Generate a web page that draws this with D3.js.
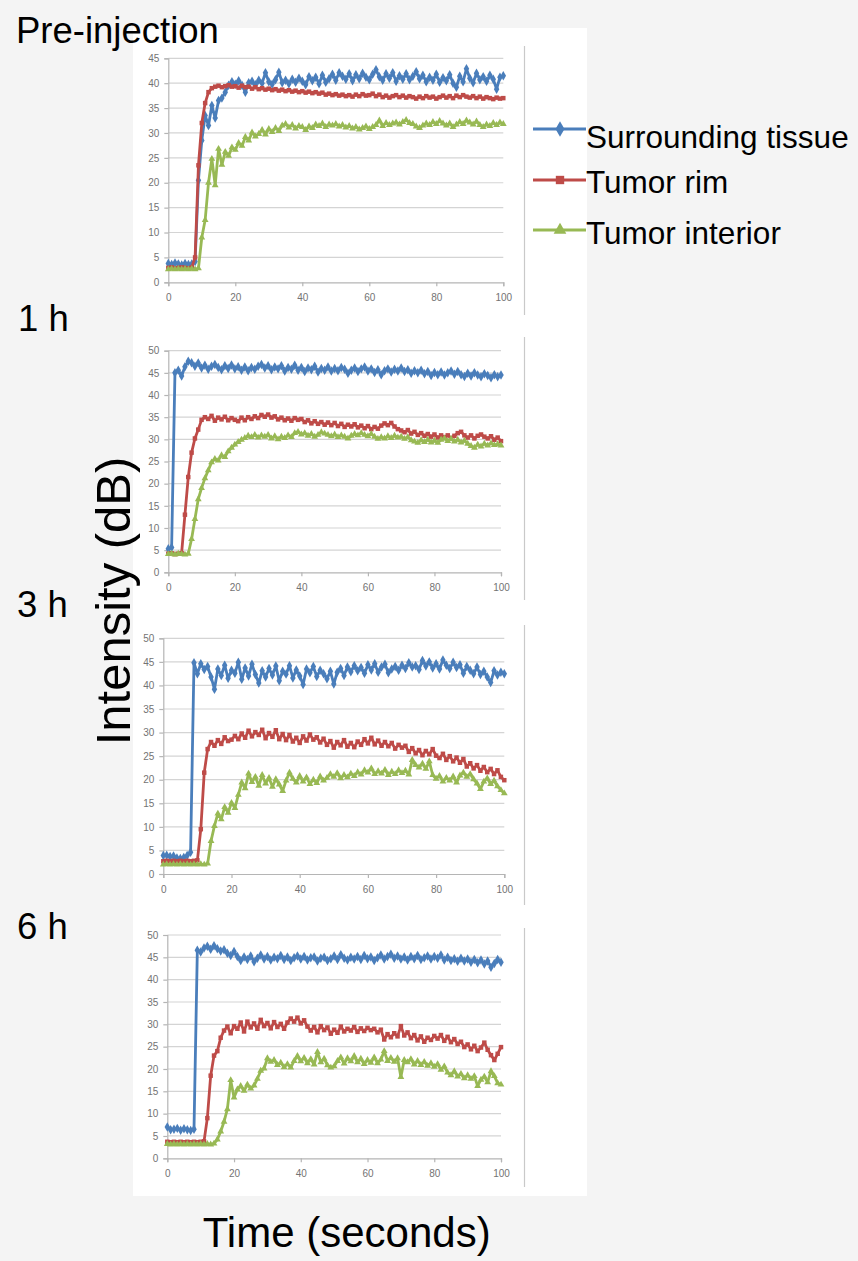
<!DOCTYPE html>
<html><head><meta charset="utf-8">
<script src="https://cdn.jsdelivr.net/npm/d3@7"></script>
<style>html,body{margin:0;padding:0;background:#f4f4f4;} svg{display:block;}</style>
</head><body>
<svg id="chart" width="858" height="1261"></svg>
<script>
// ---------- DATA ----------
const times = d3.range(0, 101, 1); // sample times in seconds
const panelTitles = ["Pre-injection", "1 h", "3 h", "6 h"];
const seriesNames = ["Surrounding tissue", "Tumor rim", "Tumor interior"];
const yMaxes = [45, 50, 50, 50];
const xTickValues = [0, 20, 40, 60, 80, 100];

const pre_surrounding = [
3.8,3.6,3.9,3.7,3.5,3.8,3.6,3.7,4.2,20.5,
28.5,33.5,31.5,35.5,33.0,36.5,37.0,38.2,39.6,40.3,
39.8,40.5,39.6,38.2,40.1,40.4,39.7,40.6,40.0,42.1,
40.3,39.8,40.7,42.2,40.1,40.6,39.9,40.8,40.2,41.0,
40.4,39.7,41.3,40.5,41.2,39.9,41.6,40.2,40.9,41.8,
40.6,42.1,41.4,40.8,41.9,40.5,41.7,40.9,42.0,41.2,
40.7,41.8,42.7,41.3,40.6,41.9,41.0,42.1,40.4,41.5,
40.8,41.9,40.7,41.4,42.3,40.9,41.6,40.3,41.2,40.6,
41.8,40.2,41.1,40.5,41.7,40.0,39.2,41.4,40.3,42.9,
41.0,40.1,42.0,40.7,41.3,40.4,41.6,40.8,38.8,41.2,
41.5];
const pre_rim = [
2.9,3.0,2.8,2.9,3.0,2.9,2.8,3.0,5.0,23.5,
32.0,36.0,38.2,39.0,39.3,39.5,39.2,39.4,39.6,39.3,
39.4,39.1,39.5,39.2,39.3,38.9,39.2,38.8,39.0,38.7,
38.9,38.6,38.8,38.5,38.7,38.4,38.6,38.3,38.5,38.2,
38.4,38.1,38.3,38.0,38.2,37.9,38.1,37.7,37.9,37.6,
37.8,37.5,37.7,37.4,37.6,37.3,37.7,37.4,37.8,37.5,
37.6,37.9,37.4,37.7,37.2,37.5,37.1,37.4,37.6,37.2,
37.5,37.1,37.4,37.2,36.9,37.3,37.0,37.4,37.1,37.3,
36.9,37.2,37.5,37.1,37.4,37.0,37.5,37.2,37.6,37.3,
37.1,37.4,37.0,37.3,36.9,37.2,37.0,36.8,37.1,36.9,
37.0];
const pre_interior = [
2.6,2.7,2.6,2.7,2.6,2.7,2.6,2.7,2.6,2.8,
9.0,12.5,20.0,24.8,19.5,26.8,23.6,26.2,25.4,27.1,
26.6,28.0,27.4,29.2,28.5,30.1,29.3,29.8,30.6,29.7,
30.8,30.2,31.0,30.4,31.5,31.8,31.1,31.6,30.9,31.4,
31.2,30.6,31.3,31.0,31.7,31.4,31.9,31.2,31.7,31.5,
31.8,31.3,31.6,31.1,31.4,30.9,31.2,30.7,31.0,31.3,
30.8,31.2,31.6,32.5,31.4,32.0,31.6,31.9,32.1,31.7,
32.2,32.6,32.0,31.8,31.3,31.0,31.5,31.9,31.6,32.2,
31.8,32.4,31.9,31.5,31.9,31.2,31.7,32.2,31.8,32.5,
32.1,31.7,32.3,31.6,31.2,31.7,31.4,32.0,31.6,32.1,
31.8];

const h1_surrounding = [
5.3,5.6,45.0,45.6,44.3,46.4,47.6,47.3,46.5,47.2,
46.1,46.7,45.8,46.5,46.9,46.2,45.7,46.6,46.0,46.8,
45.9,46.4,45.6,46.3,45.5,46.2,45.8,46.5,46.9,46.1,
46.6,45.7,46.3,45.9,46.6,45.4,46.2,45.8,46.7,45.6,
46.2,45.3,46.1,45.7,46.5,45.2,46.0,45.6,46.3,45.4,
46.0,45.5,46.2,45.8,44.9,45.6,46.1,45.3,45.9,46.3,
45.4,45.9,45.1,45.7,44.6,45.5,45.9,45.2,45.8,45.4,
46.1,45.3,45.7,44.9,45.5,45.0,45.6,44.8,45.3,44.4,
45.1,44.6,45.2,44.5,45.0,45.4,44.7,45.3,44.6,44.2,
44.9,44.3,45.0,44.5,44.1,44.8,44.4,43.9,44.6,44.1,
44.5];
const h1_rim = [
4.2,4.3,4.1,4.2,4.3,13.0,21.5,27.0,30.2,32.2,
34.4,35.0,34.6,35.3,34.2,34.9,34.5,35.1,34.3,34.8,
34.4,34.1,34.9,34.3,35.0,34.6,35.2,34.8,35.5,35.1,
35.6,34.9,35.2,34.5,34.9,34.3,34.7,34.2,34.8,34.4,
34.6,33.9,34.3,33.6,34.1,33.5,33.9,33.3,33.8,33.2,
33.7,33.0,33.5,32.8,33.3,32.9,33.4,32.7,33.1,32.5,
33.0,32.3,32.8,32.4,33.1,33.6,33.2,33.7,32.9,32.3,
32.0,31.6,32.1,31.3,31.7,31.0,31.4,30.8,31.2,30.6,
31.1,30.4,30.9,30.5,30.9,30.3,30.8,31.4,31.7,30.9,
30.4,30.9,30.2,30.8,31.1,30.6,30.2,30.7,29.9,30.4,
29.6];
const h1_interior = [
4.1,4.2,4.0,4.2,4.1,4.0,4.2,7.5,12.0,16.5,
19.0,21.2,23.0,24.8,25.6,25.2,26.4,26.0,27.3,28.1,
28.8,29.4,29.9,30.3,30.8,30.5,31.0,30.4,30.9,30.6,
31.0,30.2,30.7,30.0,30.6,30.3,30.9,30.5,31.4,31.7,
31.1,31.4,30.8,31.2,30.6,31.0,31.6,31.3,31.0,30.7,
31.1,30.5,30.9,30.6,30.2,30.8,31.2,30.9,31.4,31.0,
30.7,31.2,30.6,30.1,30.5,30.2,30.7,30.3,30.8,30.4,
30.6,30.1,30.5,29.8,29.5,29.2,29.8,29.4,29.9,29.3,
29.7,29.2,29.9,30.2,29.6,30.1,29.5,29.9,29.3,29.7,
29.0,28.5,28.1,28.8,28.4,29.0,28.6,29.1,28.7,28.9,
28.6];

const h3_surrounding = [
3.9,4.0,3.7,3.8,3.4,3.3,3.5,3.9,4.6,44.8,
42.5,44.6,43.4,44.0,41.8,39.2,43.5,42.1,44.3,41.5,
43.2,42.6,44.9,41.3,43.7,42.0,44.5,42.3,40.5,43.1,
41.8,43.6,42.2,44.1,41.0,43.0,42.4,44.2,41.6,43.3,
42.0,40.2,43.5,42.7,44.0,41.9,43.2,42.5,41.4,43.0,
40.3,42.8,43.6,42.1,43.9,42.9,44.2,43.1,43.8,42.6,
44.4,43.3,44.6,42.8,43.9,44.5,42.7,43.5,44.0,43.2,
44.3,43.6,44.8,43.9,44.2,43.4,45.3,44.1,45.0,43.7,
44.6,43.5,45.4,44.3,43.6,44.9,43.8,44.4,42.6,44.0,
43.2,42.5,43.9,42.3,43.0,41.8,40.6,43.1,42.2,42.8,
42.5];
const h3_rim = [
2.7,2.8,2.7,2.8,2.7,2.8,2.7,2.8,2.7,2.8,
2.9,9.5,21.5,26.5,28.0,27.2,28.4,27.6,29.0,28.2,
28.5,29.3,28.6,29.8,28.9,30.4,29.2,30.1,29.5,30.6,
28.8,29.9,29.1,30.5,28.6,29.7,28.4,29.5,28.1,28.9,
27.8,29.2,28.3,29.6,28.5,29.0,27.9,28.7,27.4,28.2,
26.8,28.0,27.3,28.4,27.0,27.8,26.9,28.1,27.4,28.6,
27.7,28.9,27.5,28.3,27.2,28.0,27.1,27.8,26.6,27.4,
26.8,27.2,25.9,26.7,25.6,26.3,25.2,26.1,25.4,26.5,
25.1,24.6,25.5,24.2,25.0,23.9,24.7,23.6,24.4,22.8,
23.5,22.4,23.1,21.9,22.7,21.6,22.3,21.2,22.0,20.6,
19.9];
const h3_interior = [
2.0,2.1,2.0,2.1,2.0,2.1,2.0,2.1,2.0,2.1,
2.0,2.1,2.0,2.2,7.0,10.2,12.8,11.6,14.2,13.0,
15.1,14.0,16.8,19.4,18.2,21.3,19.5,20.6,18.7,21.0,
19.2,20.4,18.5,20.1,19.0,17.6,19.8,21.5,20.2,19.4,
20.8,19.6,20.5,19.1,20.0,19.3,20.7,19.8,20.4,21.2,
20.6,21.4,20.3,21.0,20.5,21.3,20.8,21.6,21.1,22.0,
21.5,22.4,21.2,21.8,21.3,22.1,21.0,21.7,21.2,22.0,
21.4,21.9,21.1,24.2,23.1,22.6,23.4,22.3,23.9,21.0,
20.2,20.8,19.6,20.4,19.8,20.7,19.4,20.9,21.5,20.6,
21.2,20.1,19.2,18.0,19.6,20.3,19.1,19.8,18.6,17.8,
17.1];

const h6_surrounding = [
7.0,6.4,6.5,6.7,6.3,6.6,6.4,6.2,6.5,46.6,
46.2,47.1,47.5,46.8,47.6,46.9,46.4,46.7,45.9,45.4,
46.3,45.2,44.3,45.1,44.5,45.3,44.0,44.8,45.5,44.6,
45.2,44.4,45.0,44.7,45.4,44.5,45.1,44.3,44.9,45.3,
44.6,45.2,44.4,44.9,45.1,44.2,44.8,45.0,44.3,44.7,
45.3,44.5,45.6,44.8,44.4,45.0,44.6,45.2,44.5,45.4,
44.7,45.1,44.3,44.9,45.5,44.6,45.2,45.7,44.8,45.3,
44.6,45.1,44.4,45.2,44.7,45.4,44.5,44.9,45.3,44.6,
45.2,44.8,45.5,44.4,45.0,44.3,44.7,44.1,44.8,44.2,
44.6,43.9,44.5,43.8,44.4,43.5,44.2,42.8,43.6,44.5,
43.9];
const h6_rim = [
3.7,3.6,3.7,3.6,3.7,3.6,3.7,3.6,3.7,3.6,
3.7,3.8,9.0,18.5,23.0,24.0,27.0,28.6,29.5,28.0,
29.6,29.0,30.4,28.4,30.6,29.3,30.2,29.0,31.0,29.6,
30.3,29.1,30.5,29.4,30.1,29.0,30.4,31.3,30.6,31.5,
30.2,30.9,29.5,28.6,29.4,28.2,29.6,28.7,29.3,27.9,
28.8,28.1,29.5,28.4,29.0,28.6,29.4,28.3,29.1,28.5,
29.2,28.7,29.0,28.2,28.8,26.6,27.8,27.1,28.0,27.3,
29.6,27.5,28.2,26.9,27.6,26.4,27.3,26.1,27.0,26.5,
27.4,26.8,27.6,26.3,27.2,26.0,26.7,25.6,26.1,24.9,
25.5,24.4,25.2,24.0,24.8,25.9,24.3,23.1,22.0,23.4,
24.9];
const h6_interior = [
3.2,3.1,3.2,3.1,3.2,3.1,3.2,3.1,3.2,3.1,
3.2,3.1,3.2,3.1,3.3,4.2,6.0,8.2,11.0,17.5,
13.6,15.4,16.2,15.1,16.5,15.6,16.3,17.8,19.6,20.1,
22.4,21.6,22.0,20.9,21.4,20.4,21.1,20.3,21.8,22.9,
21.7,22.5,21.3,22.2,21.0,23.8,21.5,22.3,20.8,20.3,
20.6,21.8,22.6,21.2,22.4,21.7,22.9,21.5,22.3,21.1,
22.0,21.4,22.6,21.3,22.1,24.0,21.8,22.5,21.6,22.4,
18.2,22.0,21.5,22.2,21.0,21.8,20.9,21.6,20.7,21.3,
20.5,21.1,19.8,20.6,19.2,18.6,19.5,18.3,18.9,17.9,
18.6,17.8,18.4,16.2,17.6,18.3,17.0,19.5,18.4,16.8,
16.5];

const panelSeries = [
  [pre_surrounding, pre_rim, pre_interior],
  [h1_surrounding, h1_rim, h1_interior],
  [h3_surrounding, h3_rim, h3_interior],
  [h6_surrounding, h6_rim, h6_interior]
];

// ---------- STYLE / LAYOUT ----------
const lineColors = ["#4a7ebb", "#be4b48", "#98b954"];
const markerTypes = [d3.symbolDiamond, d3.symbolSquare, d3.symbolTriangle];
const markerSizes = [26, 20, 20];
const layout = [
  {x0:168.3, x1:503.3, yb:282.3, yt:58.3,  tx:16, ty:43,  sepTop:46,  sepBot:315},
  {x0:168.3, x1:501.0, yb:572.3, yt:350.7, tx:18, ty:331, sepTop:337, sepBot:600},
  {x0:163.3, x1:504.3, yb:874.0, yt:638.3, tx:17, ty:617, sepTop:625, sepBot:905},
  {x0:167.3, x1:501.0, yb:1158.3,yt:935.0, tx:17, ty:939, sepTop:928, sepBot:1187}
];
const FONT = "'Liberation Sans', Arial, sans-serif";

const svg = d3.select("#chart");
svg.append("rect").attr("width", 858).attr("height", 1261).attr("fill", "#f4f4f4");
svg.append("rect").attr("x", 133).attr("y", 28).attr("width", 454).attr("height", 1168).attr("fill", "#ffffff");

panelSeries.forEach((series, p) => {
  const L = layout[p];
  const x = d3.scaleLinear().domain([0, 100]).range([L.x0, L.x1]);
  const y = d3.scaleLinear().domain([0, yMaxes[p]]).range([L.yb, L.yt]);
  const g = svg.append("g");

  g.append("line").attr("x1", 524.5).attr("x2", 524.5).attr("y1", L.sepTop).attr("y2", L.sepBot)
    .attr("stroke", "#c9c9c9").attr("stroke-width", 1.2);

  const yTicks = d3.range(0, yMaxes[p] + 0.001, 5);
  g.selectAll(".grid").data(yTicks.filter(d => d > 0)).enter().append("line")
    .attr("x1", x(0)).attr("x2", x(100))
    .attr("y1", d => y(d)).attr("y2", d => y(d))
    .attr("stroke", "#d4d4d4").attr("stroke-width", 1.2);

  const yAxis = d3.axisLeft(y).tickValues(yTicks).tickSize(4).tickPadding(5).tickFormat(d3.format("d"));
  const xAxis = d3.axisBottom(x).tickValues(xTickValues).tickSize(4).tickPadding(8).tickFormat(d3.format("d"));
  const ya = g.append("g").attr("transform", `translate(${x(0)},0)`).call(yAxis);
  const xa = g.append("g").attr("transform", `translate(0,${y(0)})`).call(xAxis);
  [ya, xa].forEach(a => {
    a.select(".domain").attr("stroke", "#b5b5b5").attr("stroke-width", 1.2);
    a.selectAll(".tick line").attr("stroke", "#b5b5b5").attr("stroke-width", 1.2);
    a.selectAll(".tick text").attr("fill", "#737373").style("font-family", FONT).style("font-size", "10px");
  });

  series.forEach((vals, s) => {
    const pts = vals.map((v, i) => [times[i], v]);
    g.append("path").datum(pts)
      .attr("fill", "none").attr("stroke", lineColors[s]).attr("stroke-width", 2.8)
      .attr("stroke-linejoin", "round")
      .attr("d", d3.line().x(d => x(d[0])).y(d => y(d[1])));
    g.selectAll(null).data(pts).enter().append("path")
      .attr("transform", d => `translate(${x(d[0])},${y(d[1])})`)
      .attr("d", d3.symbol().type(markerTypes[s]).size(markerSizes[s]))
      .attr("fill", lineColors[s]);
  });

  svg.append("text").attr("x", L.tx).attr("y", L.ty).text(panelTitles[p])
    .style("font-family", FONT).style("font-size", "36.5px").attr("fill", "#000");
});

// legend
const legendY = [129, 180, 230];
const legendTextY = [148, 193, 244];
seriesNames.forEach((name, s) => {
  svg.append("line").attr("x1", 533).attr("x2", 586).attr("y1", legendY[s]).attr("y2", legendY[s])
    .attr("stroke", lineColors[s]).attr("stroke-width", 3);
  svg.append("path").attr("transform", `translate(560,${legendY[s]})`)
    .attr("d", d3.symbol().type(markerTypes[s]).size(70)).attr("fill", lineColors[s]);
  const t = svg.append("text").attr("x", 586).attr("y", legendTextY[s]).text(name)
    .style("font-family", FONT).style("font-size", "31.5px").attr("fill", "#000");
  const w = t.node().getComputedTextLength();
  if (586 + w > 852) t.style("font-size", (31.5 * 264 / w) + "px");
});

// axis titles
svg.append("text").attr("x", 346.7).attr("y", 1247).attr("text-anchor", "middle")
  .text("Time (seconds)").style("font-family", FONT).style("font-size", "42px").attr("fill", "#000");
svg.append("text").attr("transform", "translate(130,601) rotate(-90)").attr("text-anchor", "middle")
  .text("Intensity (dB)").style("font-family", FONT).style("font-size", "49px").attr("fill", "#000");
</script>
</body></html>
